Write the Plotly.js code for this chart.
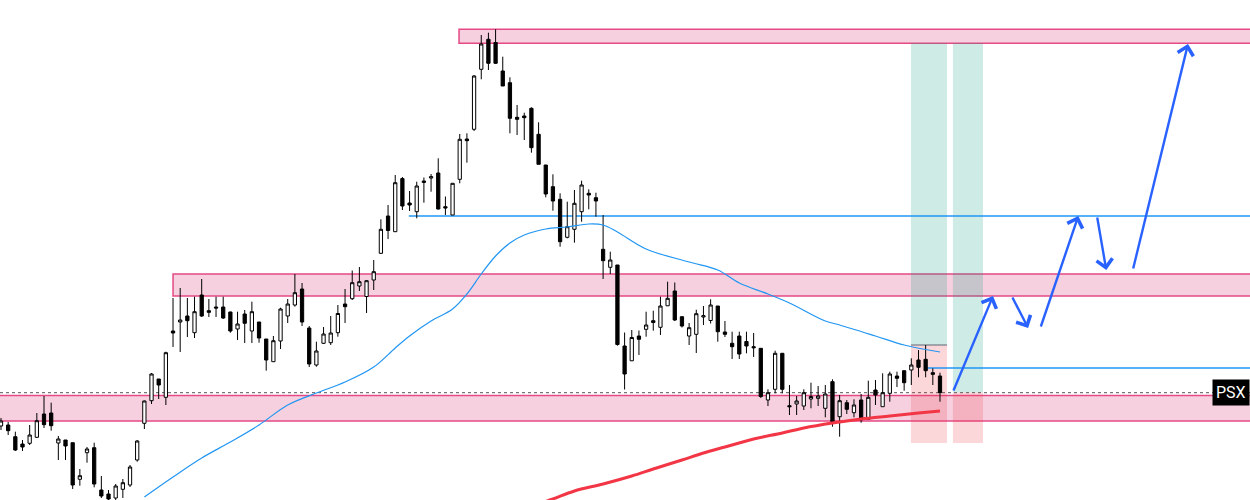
<!DOCTYPE html>
<html><head><meta charset="utf-8">
<script src="https://cdn.plot.ly/plotly-3.0.1.min.js"></script>
<style>html,body{margin:0;padding:0;background:#fff;overflow:hidden;} #chart{width:1250px;height:500px;}</style>
</head><body><div id="chart"></div>
<script>
// Daily candles (price units)
const opens = [132.4,132.5,131.33,130.6,130.67,131.27,133.6,133.7,130.7,131.0,
130.73,127.07,129.73,130.23,126.0,125.6,125.2,126.07,126.5,129.0,
132.67,134.93,137.1,135.27,141.9,142.8,143.4,141.73,145.5,143.93,
144.3,144.3,143.8,142.1,143.6,141.9,142.8,141.1,138.83,140.9,
143.4,144.5,146.1,142.2,138.5,140.67,140.73,141.73,144.6,145.13,
146.4,145.35,147.0,149.67,153.4,151.83,157.14,154.7,153.83,156.75,
157.2,157.7,154.33,153.5,157.07,161.1,162.07,168.07,171.07,170.75,
167.9,166.73,163.27,163.4,164.17,161.57,158.5,156.33,155.07,151.27,
152.07,153.83,155.67,155.23,150.07,148.27,148.5,140.4,138.92,141.4,
142.07,142.93,142.27,144.42,145.9,143.33,141.4,141.57,143.3,142.95,
144.4,141.8,140.67,141.4,140.85,140.33,140.17,135.0,136.07,139.67,
134.43,134.6,134.4,135.1,135.17,134.17,136.83,133.33,134.73,133.73,
135.0,133.07,136.0,134.33,135.67,137.4,137.93,138.0,139.0,139.07,
137.73,137.4];
const highs = [133.2,132.8,131.83,131.0,132.5,133.7,135.4,134.73,131.4,131.0,
130.73,128.1,130.3,130.73,127.4,126.0,126.6,127.1,128.5,131.0,
134.95,137.7,137.1,139.83,145.2,146.2,145.2,145.33,147.1,145.1,
145.33,145.33,143.83,143.83,144.0,144.83,142.8,141.1,141.4,144.23,
145.1,147.6,146.7,142.4,140.83,142.3,143.4,144.5,146.1,147.95,
148.3,147.0,149.0,153.07,154.5,157.5,157.3,155.9,156.83,157.25,
157.6,159.17,155.35,156.67,161.6,161.67,167.5,171.5,171.73,172.07,
169.33,167.27,164.5,163.73,164.27,162.77,158.5,157.57,155.67,154.83,
156.0,156.93,156.07,155.73,153.5,149.83,148.5,141.75,142.0,141.95,
143.83,143.93,145.33,146.83,146.75,143.33,142.7,144.03,144.4,145.07,
144.4,142.9,141.83,141.83,141.83,141.7,140.17,136.07,139.93,139.67,
136.5,135.4,136.07,136.73,136.4,136.5,137.07,135.5,135.0,135.07,
135.6,136.93,137.0,137.67,137.83,137.83,137.93,139.17,140.0,140.5,
138.17,137.73];
const lows = [132.0,131.5,129.9,129.9,130.5,131.2,132.2,131.93,129.0,129.0,
126.1,126.43,128.73,126.27,125.2,124.9,124.9,125.2,126.3,128.83,
132.1,134.6,135.1,134.5,140.3,139.8,141.3,141.2,143.3,143.3,
143.3,143.1,141.73,141.0,140.7,140.7,140.73,137.93,138.83,140.1,
142.7,144.33,142.4,138.3,138.33,140.6,140.5,141.33,142.7,145.0,
145.9,143.7,146.0,149.6,151.1,151.8,154.0,153.9,153.17,154.73,
155.83,154.05,153.5,153.5,156.67,158.73,161.9,167.07,168.0,168.6,
166.4,161.67,161.5,161.0,159.73,158.57,155.27,153.93,150.33,151.17,
150.73,152.83,154.07,153.33,147.1,147.6,140.43,136.05,138.9,139.5,
141.33,141.93,141.5,144.4,142.9,142.25,140.5,139.7,142.5,142.65,
140.83,141.3,139.1,139.1,139.67,139.3,135.2,134.4,135.67,135.67,
133.5,133.5,134.0,134.17,134.4,133.27,132.33,131.33,133.6,133.27,
132.73,133.07,134.5,134.33,134.83,136.3,135.93,136.5,137.27,137.27,
136.5,134.83];
const closes = [132.9,131.93,130.0,130.3,131.5,132.93,132.53,132.43,131.1,130.4,
126.5,127.43,130.1,126.6,125.4,125.1,126.4,126.73,128.3,130.9,
134.9,137.6,136.5,139.73,141.7,143.0,142.93,143.83,143.4,143.77,
144.2,143.2,141.9,142.6,142.67,143.83,141.2,139.0,140.93,144.1,
144.6,145.73,142.8,138.6,139.9,141.6,141.7,143.65,144.33,146.73,
146.83,146.93,147.83,152.07,151.95,156.73,154.4,154.5,156.4,156.9,
157.33,154.1,154.2,156.67,161.07,160.93,167.4,170.6,168.67,168.67,
166.4,163.17,163.07,163.23,160.23,158.57,155.6,154.9,150.83,152.33,
154.67,156.5,155.5,154.9,148.93,149.0,140.55,137.6,141.25,141.07,
142.5,142.75,144.4,145.17,143.0,142.4,142.23,143.63,143.43,144.5,
141.83,141.57,140.33,139.6,140.4,140.23,135.35,135.73,139.67,136.07,
134.33,134.9,135.73,135.35,135.4,135.6,132.83,134.93,134.07,134.5,
133.0,135.27,135.5,135.73,137.6,137.17,136.73,138.5,138.27,137.93,
137.57,135.73];

// Moving averages read at candle indices
const maFastIdx = [20,24,28,32,36,40,44,48,52,55,57,60,63,65,67,69,71,73,76,79,82,84,86,90,96,100,103,107,110,115,117,122,126,131];
const maFastVal = [125.3,127.3,129.2,130.8,132.5,134.5,135.7,136.8,138.3,140.2,141.4,142.9,144.1,145.6,147.6,149.4,150.7,151.5,152.1,152.3,152.6,152.5,151.8,150.1,148.8,148.0,146.7,145.6,144.7,142.9,142.5,141.4,140.5,139.8];
const maSlowIdx = [75,77,80,84,88,91,95,98,101,105,109,112,116,120,124,128,131];
const maSlowVal = [124.6,125.1,125.9,126.6,127.4,128.1,129.0,129.7,130.3,131.1,131.7,132.2,132.7,133.1,133.4,133.7,133.9];

// Supply / demand zones
const zoneStart = [63.9, 24.0, -2];
const zoneTop = [172.07, 147.6, 135.45];
const zoneBottom = [170.67, 145.4, 132.9];

// Horizontal levels
const levelStart = [56.9, 129.2];
const levelPrice = [153.4, 138.2];

// Long-position tools
const posLeft = [126.95, 132.8];
const posRight = [131.98, 137.0];
const posTarget = [170.7, 170.7];
const posEntry = [140.5, 135.75];
const posStop = [130.7, 130.7];

// Projected path (tail, head pairs)
const projIdx = [132.8, 138.4, 141.0, 143.3, 145.0, 150.3, 152.9, 154.2, 157.9, 165.6];
const projPrice = [135.8, 145.4, 145.4, 142.2, 142.2, 153.4, 153.4, 148.0, 148.0, 170.6];

const symbol = 'PSX';

const idx = closes.map((_, i) => i);
const XMAX = 200;

const shapes = [];
for (let k = 0; k < zoneStart.length; k++) {
  shapes.push({type:'rect', xref:'x', yref:'y', x0: zoneStart[k], x1: XMAX, y0: zoneBottom[k], y1: zoneTop[k],
    fillcolor:'rgba(210,20,90,0.2)', line:{color:'#e54a86', width:1.5}, layer:'below'});
}
for (let k = 0; k < posLeft.length; k++) {
  shapes.push({type:'rect', xref:'x', yref:'y', x0: posLeft[k], x1: posRight[k], y0: posEntry[k], y1: posTarget[k],
    fillcolor:'rgba(8,153,129,0.2)', line:{width:0}, layer:'below'});
  shapes.push({type:'rect', xref:'x', yref:'y', x0: posLeft[k], x1: posRight[k], y0: posStop[k], y1: posEntry[k],
    fillcolor:'rgba(242,54,69,0.2)', line:{width:0}, layer:'below'});
}
shapes.push({type:'line', xref:'x', yref:'y', x0: posLeft[0], x1: posRight[0], y0: posEntry[0], y1: posEntry[0],
  line:{color:'#8a8f99', width:1.5}, layer:'below'});
for (let k = 0; k < levelStart.length; k++) {
  shapes.push({type:'line', xref:'x', yref:'y', x0: levelStart[k], x1: XMAX, y0: levelPrice[k], y1: levelPrice[k],
    line:{color:'#2196f3', width:1.3}, layer:'below'});
}
const last = closes[closes.length - 1];
shapes.push({type:'line', xref:'paper', yref:'y', x0: 0, x1: 1, y0: last, y1: last,
  line:{color:'#555', width:1, dash:'dot'}, layer:'below'});

const annotations = [];
for (let k = 0; k < projIdx.length; k += 2) {
  annotations.push({x: projIdx[k+1], y: projPrice[k+1], ax: projIdx[k], ay: projPrice[k], xref:'x', yref:'y',
    axref:'x', ayref:'y', text:'', showarrow:true, arrowhead:4, arrowsize:1.3, arrowwidth:2.4,
    arrowcolor:'#2962ff', standoff:0, startstandoff:0});
}
annotations.push({x: 1, xref:'paper', xanchor:'right', y: last, yref:'y', yanchor:'middle', text: symbol,
  showarrow:false, bgcolor:'#000', font:{color:'#fff', size:16, family:'Roboto, Arial, sans-serif'}, borderpad:3});

const traces = [
  {type:'candlestick', x: idx, open: opens, high: highs, low: lows, close: closes,
   increasing:{line:{color:'#000', width:1}, fillcolor:'#fff'},
   decreasing:{line:{color:'#000', width:1}, fillcolor:'#000'},
   whiskerwidth:0, hoverinfo:'none', showlegend:false},
  {type:'scatter', mode:'lines', x: maFastIdx, y: maFastVal, line:{color:'#2196f3', width:1.2, shape:'spline'}, hoverinfo:'none', showlegend:false},
  {type:'scatter', mode:'lines', x: maSlowIdx, y: maSlowVal, line:{color:'#f23645', width:3, shape:'spline'}, hoverinfo:'none', showlegend:false}
];

const layout = {
  width:1250, height:500,
  margin:{l:0, r:0, t:0, b:0},
  paper_bgcolor:'#fff', plot_bgcolor:'#fff',
  showlegend:false,
  boxgap:0.35,
  xaxis:{range:[-0.1395, 174.25], visible:false, showgrid:false, zeroline:false, rangeslider:{visible:false}, fixedrange:true},
  yaxis:{range:[125, 175], visible:false, showgrid:false, zeroline:false, fixedrange:true},
  shapes: shapes,
  annotations: annotations,
  dragmode:false
};

Plotly.newPlot('chart', traces, layout, {displayModeBar:false, staticPlot:true});
</script>
</body></html>
